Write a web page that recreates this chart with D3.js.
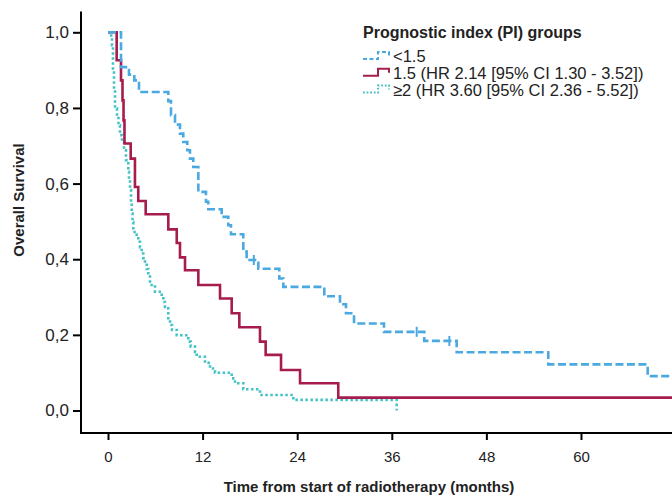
<!DOCTYPE html>
<html>
<head>
<meta charset="utf-8">
<script src="https://cdn.jsdelivr.net/npm/d3@7"></script>
<style>
  body { margin: 0; background: #fff; }
  svg { font-family: Arial, "Liberation Sans", sans-serif; }
  .tick text { fill: #222; }
  .tick line, .axisline { stroke: #000; stroke-width: 2px; }
  .label { font-size: 15px; font-weight: bold; fill: #222; }
  .legend text { font-size: 16.5px; fill: #222; }
</style>
</head>
<body>
<svg width="672" height="498"></svg>
<script>
// group labels
const groupNames = ['<1.5', '1.5 (HR 2.14 [95% CI 1.30 - 3.52])', '\u22652 (HR 3.60 [95% CI 2.36 - 5.52])'];

// PI <1.5 : event times (months) and survival after each step
const lowTimes = [1.65, 2.66, 3.34, 3.93, 7.65, 7.99, 8.5, 9.13, 9.55, 10.06, 10.4, 10.82, 11.46, 12.43, 12.72, 14.42, 15.26, 15.6, 17.16, 17.59, 19.07, 21.73, 22.24, 27.44, 29.43, 30.19, 31.21, 35.01, 40.12, 44.23, 55.85, 68.46];
const lowSurv = [0.908, 0.888, 0.873, 0.842, 0.818, 0.781, 0.756, 0.732, 0.71, 0.688, 0.666, 0.644, 0.578, 0.552, 0.532, 0.512, 0.49, 0.466, 0.42, 0.398, 0.375, 0.349, 0.327, 0.302, 0.281, 0.257, 0.23, 0.208, 0.184, 0.154, 0.122, 0.091];
const lowCensor = [18.5, 39.16, 43.3];

// PI 1.5
const midTimes = [1.1, 1.65, 1.84, 1.97, 2.09, 2.88, 3.42, 3.84, 4.78, 7.65, 8.72, 9.13, 9.77, 11.46, 14.21, 15.69, 16.66, 19.28, 20.0, 21.95, 24.36, 29.21];
const midSurv = [0.926, 0.873, 0.82, 0.767, 0.706, 0.666, 0.591, 0.554, 0.519, 0.479, 0.443, 0.405, 0.371, 0.332, 0.296, 0.257, 0.22, 0.182, 0.147, 0.107, 0.072, 0.034];

// PI >=2
const highTimes = [0.4, 0.51, 0.63, 0.76, 0.89, 1.14, 1.33, 1.52, 1.78, 2.03, 2.28, 2.58, 2.66, 2.79, 2.92, 3.01, 3.11, 3.21, 3.64, 3.84, 4.06, 4.27, 4.48, 4.69, 4.91, 5.11, 5.33, 5.96, 6.81, 7.02, 7.23, 7.45, 7.65, 7.87, 8.12, 8.72, 10.19, 10.49, 11.04, 11.25, 12.3, 12.94, 13.57, 15.69, 16.11, 17.16, 19.28, 23.51, 36.62];
const highSurv = [0.985, 0.966, 0.9, 0.847, 0.799, 0.778, 0.754, 0.728, 0.709, 0.688, 0.662, 0.631, 0.609, 0.583, 0.551, 0.521, 0.498, 0.472, 0.461, 0.446, 0.432, 0.415, 0.403, 0.389, 0.374, 0.358, 0.332, 0.314, 0.301, 0.287, 0.274, 0.27, 0.244, 0.226, 0.213, 0.199, 0.182, 0.169, 0.155, 0.142, 0.126, 0.111, 0.1, 0.085, 0.072, 0.056, 0.041, 0.028, 0.0];

const endTimes = [75, 75, 36.62];
const xTicks = [0, 12, 24, 36, 48, 60];
const yTicks = [0, 0.2, 0.4, 0.6, 0.8, 1.0];

const colors = ['#4aa9e0', '#a61c4e', '#45c2c6'];
const dashes = ['8,3.5', null, '2.5,2.5'];

const svg = d3.select('svg');

const x = d3.scaleLinear().domain([0, 72]).range([108, 108 + 72 * 7.883]);
const y = d3.scaleLinear().domain([0, 1]).range([410.5, 32.3]);
const axisX = 81, axisY = 433;

// axes
svg.append('line').attr('class', 'axisline')
    .attr('x1', axisX).attr('x2', axisX)
    .attr('y1', y(1.055)).attr('y2', axisY + 1);
svg.append('line').attr('class', 'axisline')
    .attr('x1', axisX - 1).attr('x2', 672)
    .attr('y1', axisY).attr('y2', axisY);

const gx = svg.append('g')
    .attr('transform', `translate(0, ${axisY})`)
    .call(d3.axisBottom(x).tickValues(xTicks).tickSize(7).tickPadding(11).tickSizeOuter(0));
gx.select('.domain').remove();
gx.selectAll('.tick text').style('font-size', '15px');

const gy = svg.append('g')
    .attr('transform', `translate(${axisX}, 0)`)
    .call(d3.axisLeft(y).tickValues(yTicks).tickSize(8).tickPadding(4)
        .tickFormat(d => d.toFixed(1).replace('.', ',')));
gy.select('.domain').remove();
gy.selectAll('.tick text').style('font-size', '17px');

// curves
const series = [
    { t: lowTimes, s: lowSurv, c: lowCensor },
    { t: midTimes, s: midSurv, c: [] },
    { t: highTimes, s: highSurv, c: [] }
];

const line = d3.line()
    .x(d => x(d[0]))
    .y(d => y(d[1]))
    .curve(d3.curveStepAfter);

// draw high risk first so the others sit on top
[2, 1, 0].forEach(i => {
    const sr = series[i];
    const pts = [[0, 1]].concat(sr.t.map((t, k) => [t, sr.s[k]]));
    pts.push([endTimes[i], sr.s[sr.s.length - 1]]);
    svg.append('path')
        .datum(pts)
        .attr('d', line)
        .attr('fill', 'none')
        .attr('stroke', colors[i])
        .attr('stroke-width', 2.6)
        .attr('stroke-dasharray', dashes[i]);

    // censor marks
    const survAt = t => {
        let v = 1;
        sr.t.forEach((tt, k) => { if (tt <= t) v = sr.s[k]; });
        return v;
    };
    svg.selectAll(null)
        .data(sr.c)
        .enter()
        .append('line')
        .attr('x1', d => x(d)).attr('x2', d => x(d))
        .attr('y1', d => y(survAt(d)) - 5)
        .attr('y2', d => y(survAt(d)) + 5)
        .attr('stroke', colors[i])
        .attr('stroke-width', 2);
});

// legend
const legend = svg.append('g').attr('class', 'legend');
legend.append('text')
    .attr('class', 'label')
    .attr('x', 363).attr('y', 38)
    .style('font-size', '16px')
    .text('Prognostic index (PI) groups');

groupNames.forEach((name, i) => {
    const cy = 56 + i * 16.8;
    legend.append('path')
        .attr('d', `M363,${cy + 3}H378V${cy - 4}H389V${cy}`)
        .attr('fill', 'none')
        .attr('stroke', colors[i])
        .attr('stroke-width', 2)
        .attr('stroke-dasharray', i === 0 ? '4,2.5' : (i === 2 ? '1.8,1.8' : null));
    legend.append('text')
        .attr('x', 393).attr('y', cy + 6)
        .text(name);
});

// axis titles
svg.append('text')
    .attr('class', 'label')
    .attr('transform', 'translate(24, 200) rotate(-90)')
    .attr('text-anchor', 'middle')
    .text('Overall Survival');

svg.append('text')
    .attr('class', 'label')
    .attr('x', 369).attr('y', 492)
    .attr('text-anchor', 'middle')
    .text('Time from start of radiotherapy (months)');
</script>
</body>
</html>
